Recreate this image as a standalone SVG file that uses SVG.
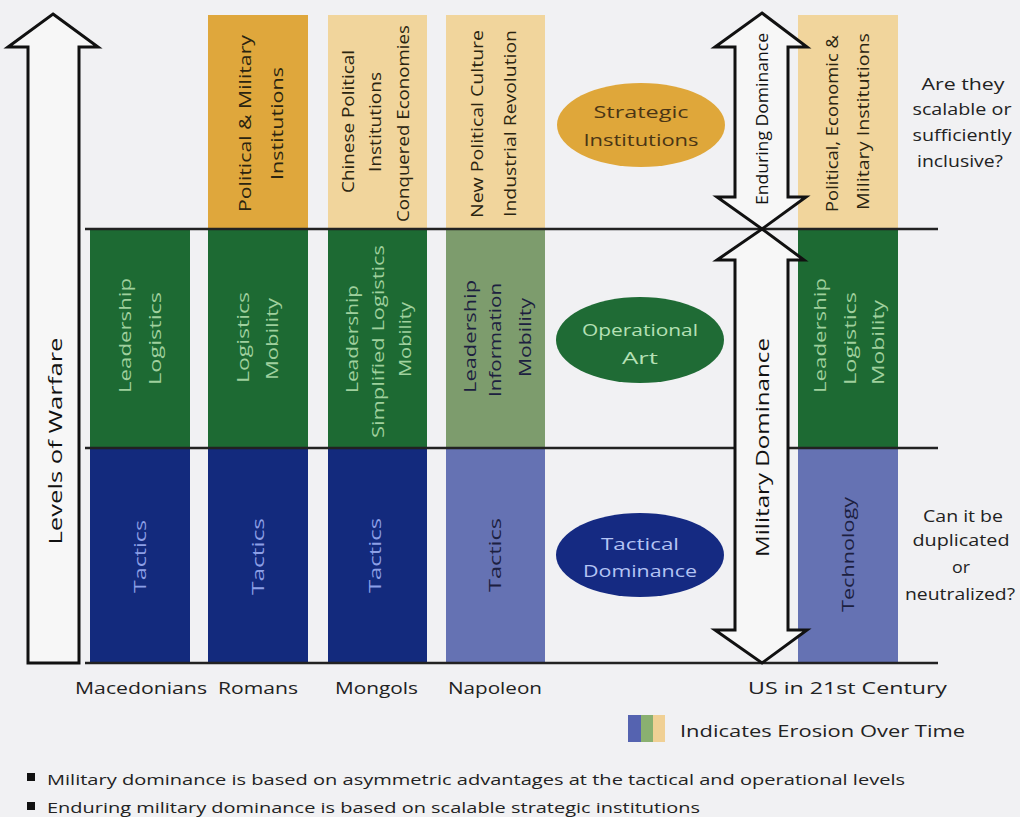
<svg xmlns="http://www.w3.org/2000/svg" width="1020" height="817" viewBox="0 0 1020 817">
<style>
text{font-family:"Open Sans","Liberation Sans",sans-serif;}
.v{font-size:16px;text-anchor:middle;dominant-baseline:central;}
.h{font-size:17px;text-anchor:middle;}
.lt{fill:#9fd09d;}
.lb{fill:#8c9fe6;}
.dk{fill:#2a2410;}
.dn{fill:#1c2040;}
.green{fill:#1d6a33;}
.navy{fill:#132a7d;}
.gold{fill:#dfa73c;}
.tan{fill:#f1d59c;}
.olive{fill:#7d9c6d;}
.peri{fill:#6572b3;}
.arrow{fill:#f7f7f7;stroke:#111;stroke-width:3;stroke-linejoin:miter;}
.rule{stroke:#222;stroke-width:2.5;}
.lab{font-size:17px;fill:#222;}
</style>
<rect width="1020" height="817" fill="#f1f1f3"/>

<g id="col-macedonians">
<rect class="green" x="90" y="229" width="100" height="219"/>
<rect class="navy" x="90" y="448" width="100" height="215"/>
<text class="v lt" transform="translate(125,335.5) rotate(-90)" textLength="115" lengthAdjust="spacingAndGlyphs">Leadership</text>
<text class="v lt" transform="translate(155,338.5) rotate(-90)" textLength="93" lengthAdjust="spacingAndGlyphs">Logistics</text>
<text class="v lb" transform="translate(140,556.5) rotate(-90)" textLength="73" lengthAdjust="spacingAndGlyphs">Tactics</text>
</g>

<g id="col-romans">
<rect class="gold" x="208" y="15" width="100" height="214"/>
<rect class="green" x="208" y="229" width="100" height="219"/>
<rect class="navy" x="208" y="448" width="100" height="215"/>
<text class="v dk" transform="translate(245,123.5) rotate(-90)" textLength="177" lengthAdjust="spacingAndGlyphs">Political &amp; Military</text>
<text class="v dk" transform="translate(277,123.5) rotate(-90)" textLength="113" lengthAdjust="spacingAndGlyphs">Institutions</text>
<text class="v lt" transform="translate(243,337.5) rotate(-90)" textLength="91" lengthAdjust="spacingAndGlyphs">Logistics</text>
<text class="v lt" transform="translate(272,339) rotate(-90)" textLength="82" lengthAdjust="spacingAndGlyphs">Mobility</text>
<text class="v lb" transform="translate(258,556.5) rotate(-90)" textLength="77" lengthAdjust="spacingAndGlyphs">Tactics</text>
</g>

<g id="col-mongols">
<rect class="tan" x="328" y="15" width="99" height="214"/>
<rect class="green" x="328" y="229" width="99" height="219"/>
<rect class="navy" x="328" y="448" width="99" height="215"/>
<text class="v dk" transform="translate(348,121.5) rotate(-90)" textLength="143" lengthAdjust="spacingAndGlyphs">Chinese Political</text>
<text class="v dk" transform="translate(375,122) rotate(-90)" textLength="100" lengthAdjust="spacingAndGlyphs">Institutions</text>
<text class="v dk" transform="translate(403,123.5) rotate(-90)" textLength="197" lengthAdjust="spacingAndGlyphs">Conquered Economies</text>
<text class="v lt" transform="translate(352,339) rotate(-90)" textLength="108" lengthAdjust="spacingAndGlyphs">Leadership</text>
<text class="v lt" transform="translate(378,341.5) rotate(-90)" textLength="193" lengthAdjust="spacingAndGlyphs">Simplified Logistics</text>
<text class="v lt" transform="translate(405,339.5) rotate(-90)" textLength="75" lengthAdjust="spacingAndGlyphs">Mobility</text>
<text class="v lb" transform="translate(375,555.5) rotate(-90)" textLength="75" lengthAdjust="spacingAndGlyphs">Tactics</text>
</g>

<g id="col-napoleon">
<rect class="tan" x="446" y="15" width="99" height="214"/>
<rect class="olive" x="446" y="229" width="99" height="219"/>
<rect class="peri" x="446" y="448" width="99" height="215"/>
<text class="v dk" transform="translate(477,124) rotate(-90)" textLength="188" lengthAdjust="spacingAndGlyphs">New Political Culture</text>
<text class="v dk" transform="translate(510,123.5) rotate(-90)" textLength="187" lengthAdjust="spacingAndGlyphs">Industrial Revolution</text>
<text class="v dn" transform="translate(470,336.5) rotate(-90)" textLength="113" lengthAdjust="spacingAndGlyphs">Leadership</text>
<text class="v dn" transform="translate(495,340) rotate(-90)" textLength="114" lengthAdjust="spacingAndGlyphs">Information</text>
<text class="v dn" transform="translate(525,337.5) rotate(-90)" textLength="79" lengthAdjust="spacingAndGlyphs">Mobility</text>
<text class="v dn" transform="translate(495,555) rotate(-90)" textLength="74" lengthAdjust="spacingAndGlyphs">Tactics</text>
</g>

<g id="col-us">
<rect class="tan" x="798" y="15" width="100" height="214"/>
<rect class="green" x="798" y="229" width="100" height="219"/>
<rect class="peri" x="798" y="448" width="100" height="215"/>
<text class="v dk" transform="translate(832,123.5) rotate(-90)" textLength="177" lengthAdjust="spacingAndGlyphs">Political, Economic &amp;</text>
<text class="v dk" transform="translate(863,121.5) rotate(-90)" textLength="177" lengthAdjust="spacingAndGlyphs">Military Institutions</text>
<text class="v lt" transform="translate(820,335.5) rotate(-90)" textLength="115" lengthAdjust="spacingAndGlyphs">Leadership</text>
<text class="v lt" transform="translate(850,338.5) rotate(-90)" textLength="93" lengthAdjust="spacingAndGlyphs">Logistics</text>
<text class="v lt" transform="translate(878,342.5) rotate(-90)" textLength="85" lengthAdjust="spacingAndGlyphs">Mobility</text>
<text class="v dn" transform="translate(848,554.5) rotate(-90)" textLength="115" lengthAdjust="spacingAndGlyphs">Technology</text>
</g>

<g id="ellipse-strategic">
<ellipse cx="641" cy="125" rx="84" ry="42" fill="#dfa73a"/>
<text class="h" x="641" y="118" fill="#4a3515" textLength="95" lengthAdjust="spacingAndGlyphs">Strategic</text>
<text class="h" x="641" y="146" fill="#4a3515" textLength="115" lengthAdjust="spacingAndGlyphs">Institutions</text>
</g>
<g id="ellipse-operational">
<ellipse cx="640" cy="340" rx="84" ry="43" fill="#1f6b35"/>
<text class="h" x="640" y="336" fill="#b5e0b5" textLength="116" lengthAdjust="spacingAndGlyphs">Operational</text>
<text class="h" x="640" y="364" fill="#b5e0b5" textLength="36" lengthAdjust="spacingAndGlyphs">Art</text>
</g>
<g id="ellipse-tactical">
<ellipse cx="640" cy="555" rx="84" ry="42" fill="#152a82"/>
<text class="h" x="640" y="550" fill="#b4c4f4" textLength="78" lengthAdjust="spacingAndGlyphs">Tactical</text>
<text class="h" x="640" y="577" fill="#b4c4f4" textLength="114" lengthAdjust="spacingAndGlyphs">Dominance</text>
</g>

<g id="connectors">
<line class="rule" x1="85" y1="229" x2="938" y2="229"/>
<line class="rule" x1="85" y1="448" x2="938" y2="448"/>
<line class="rule" x1="85" y1="663" x2="938" y2="663"/>
<polygon class="arrow" points="53,14 98,47 79,47 79,663 28,663 28,47 8,47"/>
<polygon class="arrow" points="762,13 807,47 788,47 788,197 806,197 762,229 717,197 735,197 735,47 715,47"/>
<polygon class="arrow" points="762,229 804,260 788,260 788,630 807,630 762,663 715,630 735,630 735,260 717,260"/>
</g>

<g id="axis-labels">
<text class="v" fill="#111" style="font-size:18px" transform="translate(55,441) rotate(-90)" textLength="207" lengthAdjust="spacingAndGlyphs">Levels of Warfare</text>
<text class="v" fill="#111" transform="translate(762,119) rotate(-90)" textLength="172" lengthAdjust="spacingAndGlyphs">Enduring Dominance</text>
<text class="v" fill="#111" style="font-size:18px" transform="translate(762,447.5) rotate(-90)" textLength="219" lengthAdjust="spacingAndGlyphs">Military Dominance</text>
</g>

<g id="questions">
<text class="h" fill="#222" x="963" y="90" textLength="83" lengthAdjust="spacingAndGlyphs">Are they</text>
<text class="h" fill="#222" x="962" y="115" textLength="99" lengthAdjust="spacingAndGlyphs">scalable or</text>
<text class="h" fill="#222" x="962" y="141" textLength="99" lengthAdjust="spacingAndGlyphs">sufficiently</text>
<text class="h" fill="#222" x="960" y="167" textLength="86" lengthAdjust="spacingAndGlyphs">inclusive?</text>
<text class="h" fill="#222" x="963" y="522" textLength="80" lengthAdjust="spacingAndGlyphs">Can it be</text>
<text class="h" fill="#222" x="961" y="546" textLength="97" lengthAdjust="spacingAndGlyphs">duplicated</text>
<text class="h" fill="#222" x="961" y="573" textLength="18" lengthAdjust="spacingAndGlyphs">or</text>
<text class="h" fill="#222" x="960" y="600" textLength="110" lengthAdjust="spacingAndGlyphs">neutralized?</text>
</g>

<g id="era-labels">
<text class="lab" x="75" y="694" textLength="132" lengthAdjust="spacingAndGlyphs">Macedonians</text>
<text class="lab" x="218" y="694" textLength="80" lengthAdjust="spacingAndGlyphs">Romans</text>
<text class="lab" x="335" y="694" textLength="83" lengthAdjust="spacingAndGlyphs">Mongols</text>
<text class="lab" x="448" y="694" textLength="94" lengthAdjust="spacingAndGlyphs">Napoleon</text>
<text class="lab" x="748" y="694" textLength="199" lengthAdjust="spacingAndGlyphs">US in 21st Century</text>
</g>

<g id="legend">
<rect x="628" y="715" width="13" height="27" fill="#5563b0"/>
<rect x="641" y="715" width="12" height="27" fill="#8ab070"/>
<rect x="653" y="715" width="12" height="27" fill="#f0d094"/>
<text class="lab" x="680" y="737" textLength="285" lengthAdjust="spacingAndGlyphs">Indicates Erosion Over Time</text>
</g>

<g id="notes">
<rect x="27" y="773" width="8" height="8" fill="#111"/>
<rect x="27" y="802" width="8" height="8" fill="#111"/>
<text x="47" y="785" font-size="15" fill="#222" textLength="858" lengthAdjust="spacingAndGlyphs">Military dominance is based on asymmetric advantages at the tactical and operational levels</text>
<text x="47" y="813" font-size="15" fill="#222" textLength="653" lengthAdjust="spacingAndGlyphs">Enduring military dominance is based on scalable strategic institutions</text>
</g>
</svg>
